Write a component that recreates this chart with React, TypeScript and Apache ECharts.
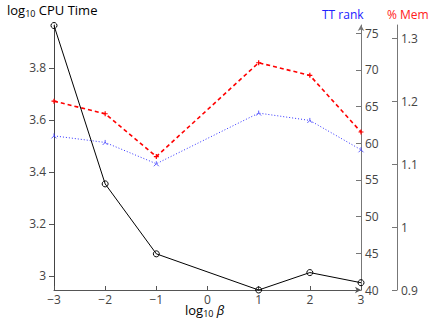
import React, { useEffect, useRef } from "react";
import * as echarts from "echarts";

const xValues = [-3, -2, -1, 1, 2, 3];
const cpuTime = [3.963, 3.354, 3.085, 2.946, 3.013, 2.974];
const memPct = [1.2, 1.18, 1.112, 1.261, 1.241, 1.151];
const ttRank = [61.0, 60.1, 57.2, 64.1, 63.1, 59.1];

const xTicks = [-3, -2, -1, 0, 1, 2, 3];
const cpuTicks = [3, 3.2, 3.4, 3.6, 3.8];
const ttTicks = [40, 45, 50, 55, 60, 65, 70, 75];
const memTicks = [0.9, 1, 1.1, 1.2, 1.3];

const FONT = "Open Sans";
const LABEL = "#444";

export default function App() {
  const ref = useRef<HTMLDivElement>(null);
  useEffect(() => {
    if (!ref.current) return;
    const chart = echarts.init(ref.current, undefined, { renderer: "svg" });
    const pairs = (ys: number[]) => xValues.map((x, i) => [x, ys[i]]);
    const rich = {
      a: { fontFamily: FONT, fontSize: 13, color: "#333" },
      s: { fontFamily: FONT, fontSize: 9, color: "#333", padding: [7, 0, 0, 0] },
      b: { fontFamily: FONT, fontSize: 13, color: "#333", fontStyle: "italic" },
    };
    chart.setOption({
      animation: false,
      grid: { left: 54, right: 72, top: 25, bottom: 30 },
      xAxis: {
        type: "value",
        min: -3,
        max: 3,
        axisLine: {
          onZero: false,
          lineStyle: { color: "#555", width: 1 },
          symbol: ["none", "arrow"],
          symbolSize: [5, 6],
        },
        axisTick: { inside: true, length: 4, customValues: xTicks, lineStyle: { color: "#555" } },
        axisLabel: {
          color: LABEL,
          fontFamily: FONT,
          fontSize: 12,
          margin: 3,
          customValues: xTicks,
          formatter: (v: number) => String(v).replace("-", "\u2212"),
        },
        splitLine: { show: false },
      },
      yAxis: [
        {
          type: "value",
          position: "left",
          min: 2.946,
          max: 3.965,
          axisLine: { show: true, onZero: false, lineStyle: { color: "#444", width: 1 } },
          axisTick: {
            show: true,
            length: 5,
            customValues: cpuTicks,
            lineStyle: { color: "#555" },
          },
          axisLabel: {
            color: LABEL,
            fontFamily: FONT,
            fontSize: 12,
            margin: 8,
            customValues: cpuTicks,
            formatter: (v: number) => String(+v.toFixed(2)),
          },
          splitLine: { show: false },
        },
        {
          type: "value",
          position: "right",
          min: 40,
          max: 76.1,
          axisLine: {
            show: true,
            onZero: false,
            lineStyle: { color: "#777", width: 1 },
            symbol: ["none", "arrow"],
            symbolSize: [5, 6],
          },
          axisTick: {
            show: true,
            inside: true,
            length: 5,
            customValues: ttTicks,
            lineStyle: { color: "#777" },
          },
          axisLabel: {
            color: LABEL,
            fontFamily: FONT,
            fontSize: 12,
            margin: 4,
            customValues: ttTicks,
          },
          splitLine: { show: false },
        },
        {
          type: "value",
          position: "right",
          offset: 36,
          min: 0.9,
          max: 1.321,
          axisLine: { show: true, onZero: false, lineStyle: { color: "#777", width: 1 } },
          axisTick: {
            show: true,
            inside: true,
            length: 5,
            customValues: memTicks,
            lineStyle: { color: "#777" },
          },
          axisLabel: {
            color: LABEL,
            fontFamily: FONT,
            fontSize: 12,
            margin: 4,
            customValues: memTicks,
            formatter: (v: number) => String(+v.toFixed(2)),
          },
          splitLine: { show: false },
        },
      ],
      series: [
        {
          type: "line",
          yAxisIndex: 2,
          data: pairs(memPct),
          symbol: "path://M0,5L10,5M5,0L5,10",
          symbolSize: 5,
          itemStyle: { color: "#ff0000", borderColor: "#ff0000", borderWidth: 1.2 },
          lineStyle: { color: "#ff0000", width: 1.6, type: [4, 3] },
          z: 3,
        },
        {
          type: "line",
          yAxisIndex: 1,
          data: pairs(ttRank),
          symbol: "path://M5,5L5,0M5,5L0,10M5,5L10,10",
          symbolSize: 5,
          itemStyle: { color: "#3333ff", borderColor: "#3333ff", borderWidth: 0.8 },
          lineStyle: { color: "#3333ff", width: 1, type: [1, 2] },
          z: 2,
        },
        {
          type: "line",
          yAxisIndex: 0,
          data: pairs(cpuTime),
          symbol: "circle",
          symbolSize: 6,
          itemStyle: { color: "rgba(255,255,255,0)", borderColor: "#000", borderWidth: 1 },
          lineStyle: { color: "#000", width: 1 },
          clip: false,
          z: 4,
        },
      ],
      graphic: [
        {
          type: "text",
          left: 7,
          top: 3,
          style: { text: "{a|log}{s|10}{a| CPU Time}", rich },
        },
        {
          type: "text",
          left: 185,
          top: 303,
          style: { text: "{a|log}{s|10}{a| }{b|\u03b2}", rich },
        },
        {
          type: "text",
          left: 322,
          top: 8,
          style: { text: "TT rank", fontFamily: FONT, fontSize: 12, fill: "#2020ff" },
        },
        {
          type: "text",
          left: 387,
          top: 8,
          style: { text: "% Mem", fontFamily: FONT, fontSize: 12, fill: "#ff2020" },
        },
      ],
    });
    return () => chart.dispose();
  }, []);
  return <div ref={ref} style={{ width: 433, height: 320, position: "absolute", left: 0, top: 0 }} />;
}
